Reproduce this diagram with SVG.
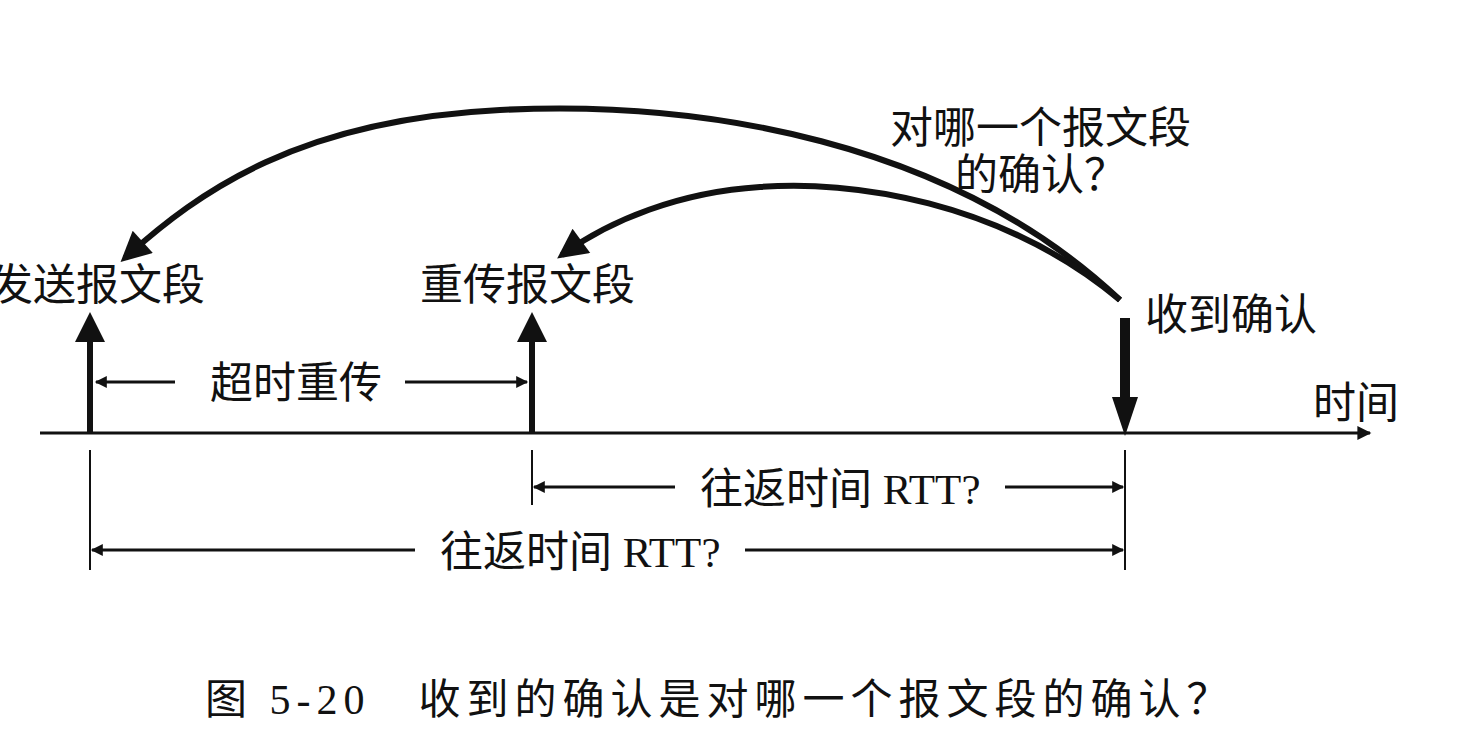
<svg xmlns="http://www.w3.org/2000/svg" width="1457" height="747" viewBox="0 0 1457 747">
<style>
text{font-family:"Liberation Serif","Noto Sans CJK SC",serif;fill:#111}
.t{font-size:43px}
.l{stroke:#111;fill:none}
</style>
<defs>
<marker id="s" viewBox="0 0 10 10" refX="9" refY="5" markerWidth="18" markerHeight="14" markerUnits="userSpaceOnUse" orient="auto"><path d="M0,0L10,5L0,10z" fill="#111"/></marker>
<marker id="m" viewBox="0 0 10 10" refX="9" refY="5" markerWidth="14" markerHeight="12" markerUnits="userSpaceOnUse" orient="auto"><path d="M0,0L10,5L0,10z" fill="#111"/></marker>
<marker id="c" viewBox="0 0 10 10" refX="8" refY="5" markerWidth="7" markerHeight="5" orient="auto"><path d="M0,0L10,5L0,10z" fill="#111"/></marker>
</defs>
<g id="connectors">
<line class="l" x1="40" y1="433" x2="1370" y2="433" stroke-width="3" marker-end="url(#s)"/>
<line class="l" x1="90" y1="433" x2="90" y2="318" stroke-width="6" marker-end="url(#c)"/>
<line class="l" x1="532" y1="433" x2="532" y2="318" stroke-width="6" marker-end="url(#c)"/>
<line class="l" x1="1125" y1="318" x2="1125" y2="400" stroke-width="10"/>
<polygon points="1112,397 1138,397 1125,436" fill="#111"/>
<line class="l" x1="175" y1="382" x2="96" y2="382" stroke-width="3" marker-end="url(#m)"/>
<line class="l" x1="405" y1="382" x2="527" y2="382" stroke-width="3" marker-end="url(#m)"/>
<line class="l" x1="90" y1="450" x2="90" y2="570" stroke-width="2"/>
<line class="l" x1="532" y1="450" x2="532" y2="505" stroke-width="2"/>
<line class="l" x1="1125" y1="450" x2="1125" y2="570" stroke-width="2"/>
<line class="l" x1="675" y1="487" x2="534" y2="487" stroke-width="3" marker-end="url(#m)"/>
<line class="l" x1="1005" y1="487" x2="1123" y2="487" stroke-width="3" marker-end="url(#m)"/>
<line class="l" x1="415" y1="550" x2="92" y2="550" stroke-width="3" marker-end="url(#m)"/>
<line class="l" x1="745" y1="550" x2="1123" y2="550" stroke-width="3" marker-end="url(#m)"/>
<path class="l" d="M1120,300 C950,140 700,100 500,110 C300,120 200,190 125,258" stroke-width="6" marker-end="url(#c)"/>
<path class="l" d="M1120,300 C1000,200 850,180 760,187 C680,192 610,220 562,255" stroke-width="6" marker-end="url(#c)"/>
</g>
<g id="n1"><text class="t" x="-10" y="300">发送报文段</text></g>
<g id="n2"><text class="t" x="420" y="300">重传报文段</text></g>
<g id="n3"><text class="t" x="1145" y="330">收到确认</text></g>
<g id="n4"><text class="t" x="1313" y="418">时间</text></g>
<g id="n5"><text class="t" x="210" y="398">超时重传</text></g>
<g id="n6"><text class="t" x="700" y="504">往返时间 RTT?</text></g>
<g id="n7"><text class="t" x="440" y="567">往返时间 RTT?</text></g>
<g id="n8"><text class="t" x="890" y="143">对哪一个报文段</text><text class="t" x="955" y="190">的确认？</text></g>
<g id="cap"><text x="205" y="714" font-size="42" letter-spacing="6">图 5-20　收到的确认是对哪一个报文段的确认？</text></g>
</svg>
